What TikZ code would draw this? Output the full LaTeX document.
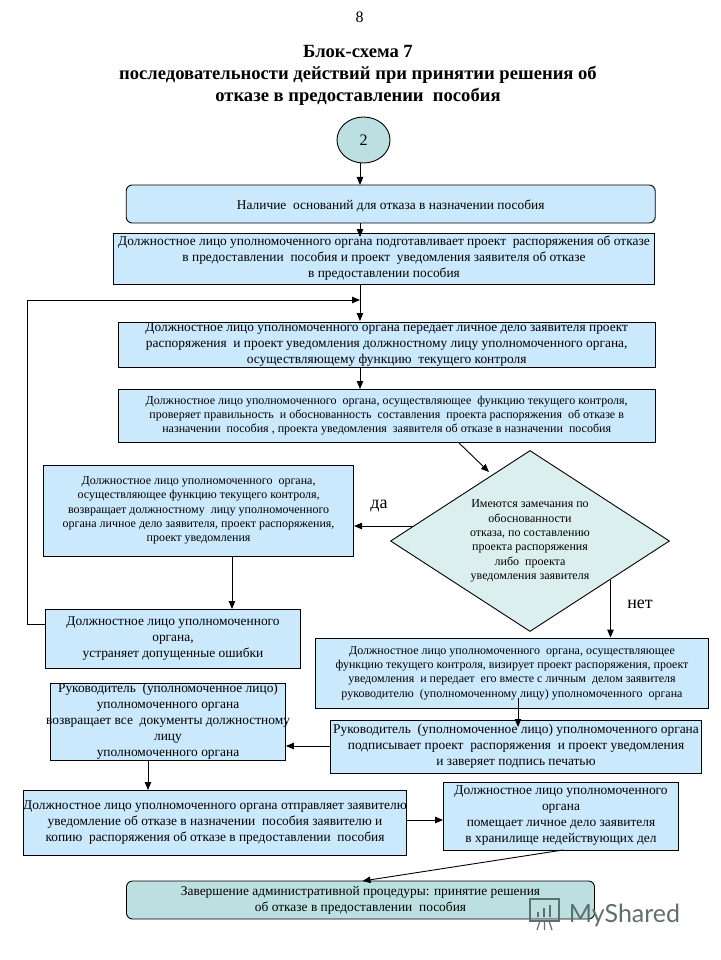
\documentclass[tikz,border=0pt]{standalone}
\usepackage{fontspec}
\setmainfont{Liberation Serif}
\newfontfamily\marksans{Lato}
\usetikzlibrary{arrows.meta,shapes.geometric}
\definecolor{boxblue}{HTML}{CBE9FD}
\definecolor{boxteal}{HTML}{BCE0E2}
\definecolor{diamteal}{HTML}{DCEFEF}
\definecolor{markgray}{HTML}{5F6F6C}
\tikzset{
  bigtext/.style={font=\fontsize{13.4}{16}\selectfont},
  smalltext/.style={font=\fontsize{12}{14.3}\selectfont},
  titletext/.style={font=\fontsize{18.6}{22}\selectfont\bfseries},
  block/.style={draw,fill=boxblue,align=center,inner xsep=0pt,inner ysep=-5pt,line width=0.9pt,
    execute at begin node={\rule{0pt}{13pt}}},
  roundblock/.style={block,rounded corners=6pt},
}
\begin{document}
\begin{tikzpicture}[x=1pt,y=-1pt,->,>={Triangle[length=8pt,width=6.5pt]},line width=0.9pt]
  \useasboundingbox (0,0) rectangle (720,960);
  \node[font=\fontsize{16}{18}\selectfont] (page) at (359.5,17) {8};
  \node[titletext,align=center] (title) at (358,75) {Блок-схема 7\\последовательности действий при принятии решения об\\отказе в предоставлении\ \ пособия};
  \node[draw,ellipse,fill=boxteal,inner sep=0pt,minimum width=53pt,minimum height=46pt,font=\fontsize{16}{18}\selectfont] (start) at (363.5,140) {2};
  \node[roundblock,bigtext,minimum width=529pt,minimum height=38pt] (ground) at (390.7,204) {Наличие\ \ оснований для отказа в назначении пособия};
  \node[block,bigtext,minimum width=541.6pt,minimum height=51pt] (prepare) at (384,258.5) {Должностное лицо уполномоченного органа подготавливает проект\ \ распоряжения об отказе\\в предоставлении\ \ пособия и проект\ \ уведомления заявителя об отказе\\в предоставлении пособия};
  \node[block,bigtext,minimum width=536.6pt,minimum height=45pt] (transfer) at (386.7,344.5) {Должностное лицо уполномоченного органа передает личное дело заявителя проект\\распоряжения\ \ и проект уведомления должностному лицу уполномоченного органа,\\осуществляющему функцию\ \ текущего контроля};
  \node[block,smalltext,minimum width=536.6pt,minimum height=53pt] (check) at (386.7,415.5) {Должностное лицо уполномоченного\ \ органа, осуществляющее\ \ функцию текущего контроля,\\проверяет правильность\ \ и обоснованность\ \ составления\ \ проекта распоряжения\ \ об отказе в\\назначении\ \ пособия\ , проекта уведомления\ \ заявителя об отказе в назначении\ \ пособия};
  \node[draw,diamond,fill=diamteal,align=center,inner sep=-3pt,aspect=1.55,minimum width=279pt,minimum height=181pt,smalltext,execute at begin node={\rule{0pt}{16pt}}] (remarks) at (530,541) {Имеются замечания по\\обоснованности\\отказа, по составлению\\проекта распоряжения\\либо\ \ проекта\\уведомления заявителя};
  \node[block,smalltext,minimum width=310pt,minimum height=91pt] (giveback) at (198.6,510.5) {Должностное лицо уполномоченного\ \ органа,\\осуществляющее функцию текущего контроля,\\возвращает должностному\ \ лицу уполномоченного\\органа личное дело заявителя, проект распоряжения,\\проект уведомления};
  \node[block,bigtext,minimum width=255pt,minimum height=59pt] (fix) at (173,638.5) {Должностное лицо уполномоченного\\органа,\\устраняет допущенные ошибки};
  \node[block,smalltext,minimum width=393pt,minimum height=70pt] (endorse) at (512,673) {Должностное лицо уполномоченного\ \ органа, осуществляющее\\функцию текущего контроля, визирует проект распоряжения, проект\\уведомления\ \ и передает\ \ его вместе с личным\ \ делом заявителя\\руководителю\ \ (уполномоченному лицу) уполномоченного\ \ органа};
  \node[block,bigtext,minimum width=235pt,minimum height=77pt] (chief) at (168,721.5) {Руководитель\ \ (уполномоченное лицо)\\уполномоченного органа\\\makebox[200pt]{возвращает все\ \ документы должностному}\\лицу\\уполномоченного органа};
  \node[block,bigtext,minimum width=371pt,minimum height=53pt] (sign) at (516,746.5) {Руководитель\ \ (уполномоченное лицо) уполномоченного органа\\подписывает проект\ \ распоряжения\ \ и проект уведомления\\и заверяет подпись печатью};
  \node[block,bigtext,minimum width=383pt,minimum height=65pt] (send) at (215,822.5) {\makebox[370pt]{Должностное лицо уполномоченного органа отправляет заявителю}\\уведомление об отказе в назначении\ \ пособия заявителю и\\копию\ \ распоряжения об отказе в предоставлении\ \ пособия};
  \node[block,bigtext,minimum width=235pt,minimum height=68pt] (archive) at (561,816) {Должностное лицо уполномоченного\\органа\\помещает личное дело заявителя\\в хранилище недействующих дел};
  \node[roundblock,bigtext,fill=boxteal,minimum width=468pt,minimum height=38pt] (finish) at (360.5,900) {Завершение административной процедуры: принятие решения\\об отказе в предоставлении\ \ пособия};
  \node[font=\fontsize{18}{22}\selectfont] (yes) at (379,506) {да};
  \node[font=\fontsize{18}{22}\selectfont] (no) at (640,604) {нет};
  \node[font=\fontsize{25}{28}\selectfont\marksans,text=markgray,inner sep=0pt] (mark) at (624.5,915) {MyShared};
  % free ends of the connectors
  \coordinate (merge) at (360,300);
  \coordinate (checkout) at (459,443);
  \coordinate (remarksin) at (489,472);
  \coordinate (remarksyes) at (413,526);
  \coordinate (remarksno) at (610.5,580);
  \coordinate (endorseout) at (518,698);
  \coordinate (signin) at (518,727);
  \coordinate (fixout) at (45.5,624);
  \coordinate (archiveout) at (563,850);
  \coordinate (finishin) at (362.5,881);
  \draw (360,163) -- (360,185);
  \draw (360,223) -- (360,237);
  \draw (360,284) -- (360,321);
  \draw (360,367) -- (360,389);
  \draw (checkout) -- (remarksin);
  \draw (remarksyes) -- (remarksyes -| giveback.east);
  \draw (remarksno) -- (remarksno |- endorse.north);
  \draw (232,556) -- (232,609);
  \draw (fixout) -- (27.5,624) -- (27.5,300) -- (merge);
  \draw (endorseout) -- (signin);
  \draw (sign.west |- 0,746) -- (chief.east |- 0,746);
  \draw (148,760) -- (148,790);
  \draw (send.east |- 0,820) -- (archive.west |- 0,820);
  \draw (archiveout) -- (finishin);
  % small board next to the mark
  \begin{scope}[-,draw=markgray,line width=1.2pt]
    \draw (530,899) -- (559,899) -- (559,921) -- (530,921) -- cycle;
    \draw (537,930) -- (540,921) (552,930) -- (549,921) (544.5,930) -- (544.5,921);
    \draw[line width=2pt] (538,917) -- (538,912) (544,917) -- (544,908) (550,917) -- (550,905);
  \end{scope}
\end{tikzpicture}
\end{document}
